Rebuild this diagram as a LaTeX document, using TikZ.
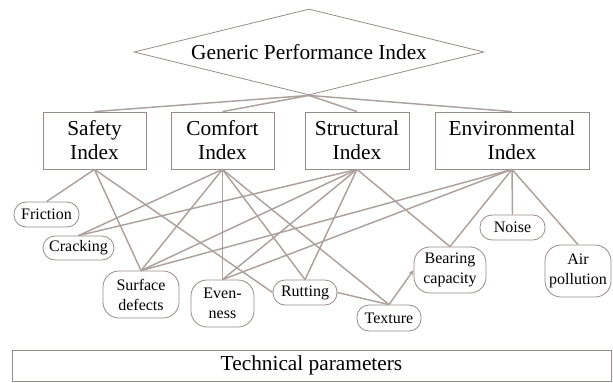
\documentclass[tikz,border=0pt]{standalone}
\usepackage{fontspec}
\setmainfont{Liberation Serif}
\usetikzlibrary{shapes.geometric,arrows.meta}
\definecolor{edgegrey}{RGB}{172,162,157}
\definecolor{boxgrey}{RGB}{150,140,136}

\begin{document}
\begin{tikzpicture}[x=0.75pt,y=0.75pt,yscale=-1,xscale=1,
  index/.style={draw=boxgrey,line width=0.6pt,inner sep=0pt,minimum height=42.75pt,align=center,font=\fontsize{16}{18}\selectfont},
  param/.style={draw=boxgrey,line width=0.6pt,rounded corners=9pt,inner sep=0pt,align=center,font=\fontsize{12}{15}\selectfont},
  link/.style={draw=edgegrey,line width=1.1pt}]
\useasboundingbox (0,0) rectangle (613,382);
%Shape: Diamond
\node [diamond,shape aspect=4.07,draw=boxgrey,line width=0.6pt,inner sep=0pt,minimum width=262.5pt,minimum height=64.5pt,font=\fontsize{16}{18}\selectfont] (gpi) at (309,52) {Generic Performance Index};
%Shape: Rectangle
\node [index,minimum width=77.25pt] (safety) at (94.5,140.5) {Safety\\Index};
\node [index,minimum width=77.25pt] (comfort) at (222.5,140.5) {Comfort\\Index};
\node [index,minimum width=78pt] (struct) at (357,140.5) {Structural\\Index};
\node [index,minimum width=115.5pt] (env) at (512,140.5) {Environmental\\Index};
%Rounded Rect
\node [param,minimum width=48.75pt,minimum height=18.75pt] (fric) at (46.5,214.5) {Friction};
\node [param,minimum width=53.25pt,minimum height=18pt] (crack) at (78.5,248) {Cracking};
\node [param,minimum width=57pt,minimum height=35.25pt,rounded corners=12pt] (surf) at (141,294.5) {Surface\\defects};
\node [param,minimum width=47.25pt,minimum height=35.25pt,rounded corners=12pt] (even) at (222.5,303.5) {Even-\\ness};
\node [param,minimum width=48pt,minimum height=18.75pt] (rut) at (305,292.5) {Rutting};
\node [param,minimum width=48pt,minimum height=19.5pt] (tex) at (389,318) {Texture};
\node [param,minimum width=54pt,minimum height=34.5pt,rounded corners=12pt] (bear) at (450,270) {Bearing\\capacity};
\node [param,minimum width=48.75pt,minimum height=18.75pt] (noise) at (512.5,227.5) {Noise};
\node [param,minimum width=49.5pt,minimum height=39pt,rounded corners=12pt] (air) at (578,271) {Air\\pollution};
%Shape: Rectangle
\node [draw=boxgrey,line width=0.6pt,inner sep=0pt,minimum width=449.25pt,minimum height=23.25pt,font=\fontsize{16}{18}\selectfont] (tech) at (311.5,365.5) {Technical parameters};

%Straight Lines
\draw [link] (gpi.south) -- (safety.north);
\draw [link] (gpi.south) -- (comfort.north);
\draw [link] (gpi.south) -- (struct.north);
\draw [link] (gpi.south) -- (env.north);
%Straight Lines
\draw [link] (safety.south) -- (fric.north);
\draw [link] (safety.south) -- (surf.north);
\draw [link] (safety.south) -- (rut.west);
%Straight Lines
\draw [link] (comfort.south) -- (crack.north);
\draw [link] (comfort.south) -- (surf.north);
\draw [link] (comfort.south) -- (even.north);
\draw [link] (comfort.south) -- (rut.north);
\draw [link] (comfort.south) -- (tex.north);
%Straight Lines
\draw [link] (struct.south) -- (crack.north);
\draw [link] (struct.south) -- (surf.north);
\draw [link] (struct.south) -- (even.north);
\draw [link] (struct.south) -- (rut.north);
\draw [link] (struct.south) -- (bear.north);
%Straight Lines
\draw [link] (env.south) -- (surf.north);
\draw [link] (env.south) -- (even.north);
\draw [link] (env.south) -- (bear.north);
\draw [link] (env.south) -- (noise.north);
\draw [link] (env.south) -- (air.north);
%Straight Lines
\draw [link] (rut.east) -- (tex.north);
\draw [link,-{Stealth[length=4pt,width=3.5pt]}] (tex.north) -- (bear.west);

\end{tikzpicture}
\end{document}
